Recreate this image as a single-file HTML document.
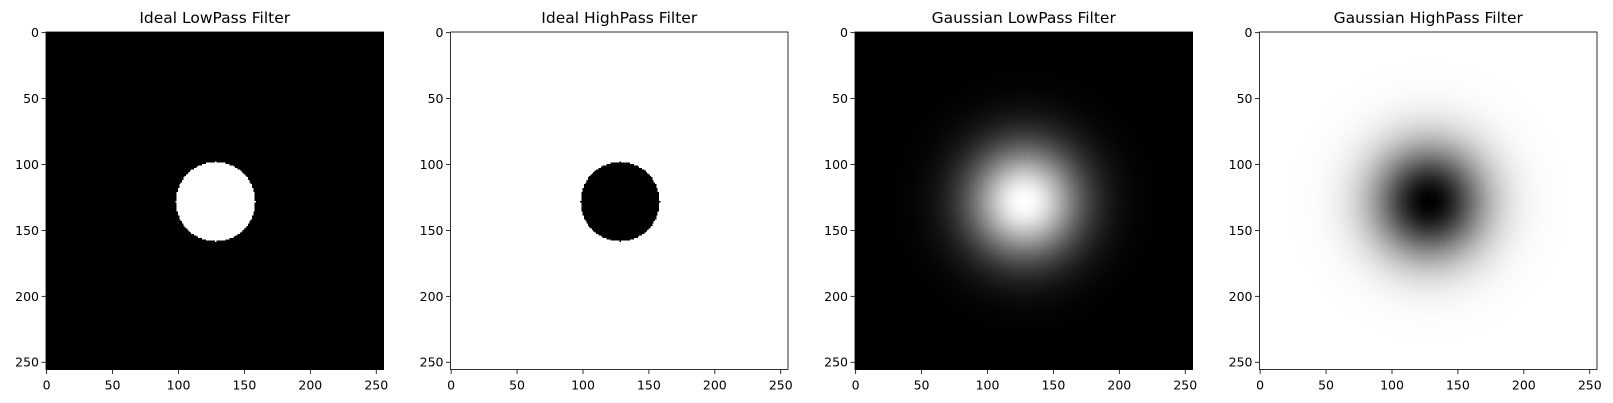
<!DOCTYPE html>
<html><head><meta charset="utf-8">
<style>
html,body{margin:0;padding:0;background:#fff;width:1613px;height:403px;overflow:hidden;font-family:"DejaVu Sans","Liberation Sans",sans-serif;}
#root{position:relative;width:1613px;height:403px;}
canvas{position:absolute;image-rendering:pixelated;}
svg{position:absolute;left:0;top:0;font-family:"DejaVu Sans","Liberation Sans",sans-serif;}
</style></head>
<body>
<div id="root">
<svg id="svg" width="1613" height="403"></svg>
</div>
<script>
const titles = ["Ideal LowPass Filter","Ideal HighPass Filter","Gaussian LowPass Filter","Gaussian HighPass Filter"];
const kinds = ["ideal-low","ideal-high","gauss-low","gauss-high"];
const cutoff = [30];
const imgSize = [256];
const tickValues = [0,50,100,150,200,250];
const tickLabels = ["0","50","100","150","200","250"];

const panelLeft = [46,450.5,855,1259.5];
const axTop = 32, axSize = 337.5;
const N = imgSize[0], D0 = cutoff[0];
const scale = axSize / N;
const root = document.getElementById('root');
const svg = document.getElementById('svg');
const NS = 'http://www.w3.org/2000/svg';
function mk(tag, attrs){const e=document.createElementNS(NS,tag);for(const k in attrs)e.setAttribute(k,attrs[k]);return e;}
function xPos(i, v){return panelLeft[i] + (v + 0.5) * scale;}
function yPos(v){return axTop + (v + 0.5) * scale;}

kinds.forEach((kind, i) => {
  const c = document.createElement('canvas');
  c.width = N; c.height = N;
  c.style.left = panelLeft[i] + 'px'; c.style.top = axTop + 'px';
  c.style.width = axSize + 'px'; c.style.height = axSize + 'px';
  
  
  const ctx = c.getContext('2d');
  const img = ctx.createImageData(N, N);
  for (let y = 0; y < N; y++) for (let x = 0; x < N; x++) {
    const d2 = (x - N/2) ** 2 + (y - N/2) ** 2;
    let v;
    if (kind === 'ideal-low') v = d2 <= D0*D0 ? 1 : 0;
    else if (kind === 'ideal-high') v = d2 <= D0*D0 ? 0 : 1;
    else if (kind === 'gauss-low') v = Math.exp(-d2 / (2*D0*D0));
    else v = 1 - Math.exp(-d2 / (2*D0*D0));
    const p = (y*N + x) * 4, g = Math.round(v*255);
    img.data[p] = img.data[p+1] = img.data[p+2] = g; img.data[p+3] = 255;
  }
  ctx.putImageData(img, 0, 0);
  root.insertBefore(c, svg);

  const frame = mk('rect', {x: panelLeft[i], y: axTop, width: axSize, height: axSize, fill: 'none', stroke: '#000', 'stroke-width': 0.8});
  
  
  svg.appendChild(frame);

  const t = mk('text', {x: panelLeft[i] + axSize/2, y: 23, 'text-anchor': 'middle', 'font-size': 15.5, fill: '#000'});
  t.textContent = titles[i];
  
  
  svg.appendChild(t);

  tickValues.forEach((v, k) => {
    const xx = xPos(i, v), yb = axTop + axSize;
    svg.appendChild(mk('line', {x1: xx, y1: yb, x2: xx, y2: yb + 4.5, stroke: '#000', 'stroke-width': 0.8}));
    const xl = mk('text', {x: xx, y: yb + 20, 'text-anchor': 'middle', 'font-size': 12.5, fill: '#000'});
    xl.textContent = tickLabels[k];
    
    
    svg.appendChild(xl);
    const yy = yPos(v), xa = panelLeft[i];
    svg.appendChild(mk('line', {x1: xa - 4.5, y1: yy, x2: xa, y2: yy, stroke: '#000', 'stroke-width': 0.8}));
    const yl = mk('text', {x: xa - 7, y: yy + 4.5, 'text-anchor': 'end', 'font-size': 12.5, fill: '#000'});
    yl.textContent = tickLabels[k];
    
    
    svg.appendChild(yl);
  });
});
</script>
</body></html>
